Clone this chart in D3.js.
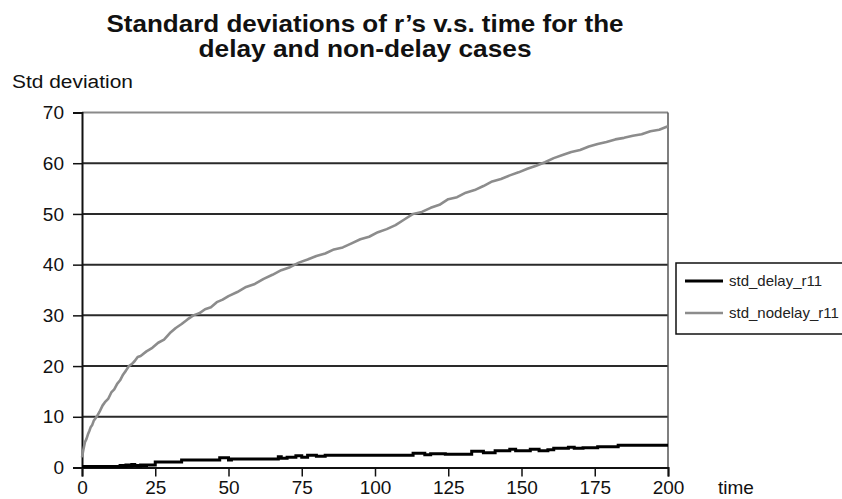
<!DOCTYPE html>
<html><head><meta charset="utf-8">
<script src="https://cdn.jsdelivr.net/npm/d3@7"></script>
<style>body{margin:0;background:#fff}svg{display:block}text{font-family:"Liberation Sans",Arial,sans-serif}</style>
</head><body><svg id="c" width="842" height="499"></svg>
<script>
const titleLines = ["Standard deviations of r\u2019s v.s. time for the", "delay and non-delay cases"];
const yTicks = [0,10,20,30,40,50,60,70];
const xTicks = [0,25,50,75,100,125,150,175,200];
const seriesNames = ["std_delay_r11","std_nodelay_r11"];

const nodelayT = [0,0.5,1,1.5,2,2.5,3,3.5,4,5,6,7,8,9,10,11,12,13,14,15,16,17,18,19,20,22,24,26,28,30,32,34,36,38,40,42,44,46,48,50,53,56,59,62,65,68,71,74,77,80,83,86,89,92,95,98,101,104,107,110,113,116,119,122,125,128,131,134,137,140,143,146,149,152,155,158,161,164,167,170,173,176,179,182,185,188,191,194,197,200];
const nodelayV = [2,3.6,5,5.6,6.5,7.2,8,8.4,9.2,10,11,12.2,13,13.6,14.8,15.4,16.5,17.2,18.3,19.1,20,20.4,21,21.8,22,22.9,23.6,24.6,25.2,26.5,27.5,28.3,29.2,30,30.4,31.2,31.6,32.6,33.1,33.8,34.6,35.6,36.2,37.2,38,38.9,39.5,40.4,41,41.7,42.2,43,43.4,44.2,45,45.5,46.4,47,47.8,48.9,50,50.4,51.2,51.8,52.9,53.3,54.2,54.7,55.5,56.4,56.9,57.6,58.2,58.9,59.5,60.2,61,61.6,62.2,62.6,63.3,63.8,64.2,64.7,65,65.4,65.7,66.3,66.6,67.3];

const delayT = [0,13,14,15,16,17,18,19,20,21,22,25,34,47,50,51,67,68,70,73,75,77,80,83,113,117,119,124,133,137,141,146,148,153,156,159,161,166,168,171,176,183,200];
const delayV = [0.2,0.4,0.2,0.5,0.3,0.6,0.4,0.3,0.5,0.4,0.5,1.1,1.5,1.9,1.5,1.7,2.1,1.8,2.0,2.3,2.0,2.4,2.2,2.4,2.8,2.5,2.7,2.6,3.2,2.9,3.3,3.6,3.3,3.6,3.3,3.5,3.8,4.0,3.8,3.9,4.1,4.4,4.4];

const svg = d3.select("#c");
const x = d3.scaleLinear().domain([0,200]).range([82,668]);
const y = d3.scaleLinear().domain([0,70]).range([467.5,112.5]);

// title
svg.append("text").attr("x",365).attr("y",32).attr("text-anchor","middle")
  .attr("font-size",24).attr("font-weight","bold").attr("fill","#111")
  .attr("textLength",517).attr("lengthAdjust","spacingAndGlyphs").text(titleLines[0]);
svg.append("text").attr("x",365).attr("y",57).attr("text-anchor","middle")
  .attr("font-size",24).attr("font-weight","bold").attr("fill","#111")
  .attr("textLength",333).attr("lengthAdjust","spacingAndGlyphs").text(titleLines[1]);

svg.append("text").attr("x",12).attr("y",88).attr("font-size",18).attr("fill","#111")
  .attr("textLength",121).attr("lengthAdjust","spacingAndGlyphs").text("Std deviation");

// gridlines
svg.append("g").selectAll("line").data(yTicks.filter(d=>d>0&&d<70)).join("line")
  .attr("x1",x(0)).attr("x2",x(200)).attr("y1",d=>y(d)).attr("y2",d=>y(d))
  .attr("stroke","#2a2a2a").attr("stroke-width",2);
svg.append("line").attr("x1",x(0)).attr("x2",x(200)).attr("y1",y(70)).attr("y2",y(70))
  .attr("stroke","#8a8a8a").attr("stroke-width",2);
svg.append("line").attr("x1",x(200)).attr("x2",x(200)).attr("y1",y(70)).attr("y2",y(0))
  .attr("stroke","#555").attr("stroke-width",1.5);

// axes
const yAxis = d3.axisLeft(y).tickValues(yTicks).tickSize(9).tickPadding(9);
const gy = svg.append("g").attr("transform",`translate(${x(0)},0)`).call(yAxis);
gy.select(".domain").attr("stroke","#111").attr("stroke-width",2);
gy.selectAll(".tick line").attr("stroke","#111").attr("stroke-width",1.5);
gy.selectAll(".tick text").attr("font-size",19).attr("fill","#111").attr("font-family","'Liberation Sans',Arial,sans-serif");

const xAxis = d3.axisBottom(x).tickValues(xTicks).tickSize(9).tickPadding(4);
const gx = svg.append("g").attr("transform",`translate(0,${y(0)})`).call(xAxis);
gx.select(".domain").attr("stroke","#111").attr("stroke-width",2);
gx.selectAll(".tick line").attr("stroke","#111").attr("stroke-width",1.5);
gx.selectAll(".tick text").attr("font-size",19).attr("fill","#111").attr("font-family","'Liberation Sans',Arial,sans-serif");

svg.append("text").attr("x",718).attr("y",494).attr("font-size",19).attr("fill","#111").text("time");

// lines
const nodelay = nodelayT.map((t,i)=>[t,nodelayV[i]]);
const delay = delayT.map((t,i)=>[t,delayV[i]]);
svg.append("path").datum(nodelay).attr("fill","none").attr("stroke","#8c8c8c").attr("stroke-width",2.6)
  .attr("stroke-linejoin","round")
  .attr("d",d3.line().x(d=>x(d[0])).y(d=>y(d[1])));
svg.append("path").datum(delay).attr("fill","none").attr("stroke","#000").attr("stroke-width",3)
  .attr("d",d3.line().curve(d3.curveStepAfter).x(d=>x(d[0])).y(d=>y(d[1])));

// legend
const lg = svg.append("g");
lg.append("rect").attr("x",676).attr("y",263).attr("width",180).attr("height",71)
  .attr("fill","#fff").attr("stroke","#111").attr("stroke-width",1.5);
const colors = ["#000","#8c8c8c"], widths=[3,2.6];
seriesNames.forEach((n,i)=>{
  const yy = 281 + i*32;
  lg.append("line").attr("x1",685).attr("x2",723).attr("y1",yy).attr("y2",yy)
    .attr("stroke",colors[i]).attr("stroke-width",widths[i]);
  lg.append("text").attr("x",729).attr("y",yy+5).attr("font-size",15).attr("fill","#222").text(n);
});
</script></body></html>
